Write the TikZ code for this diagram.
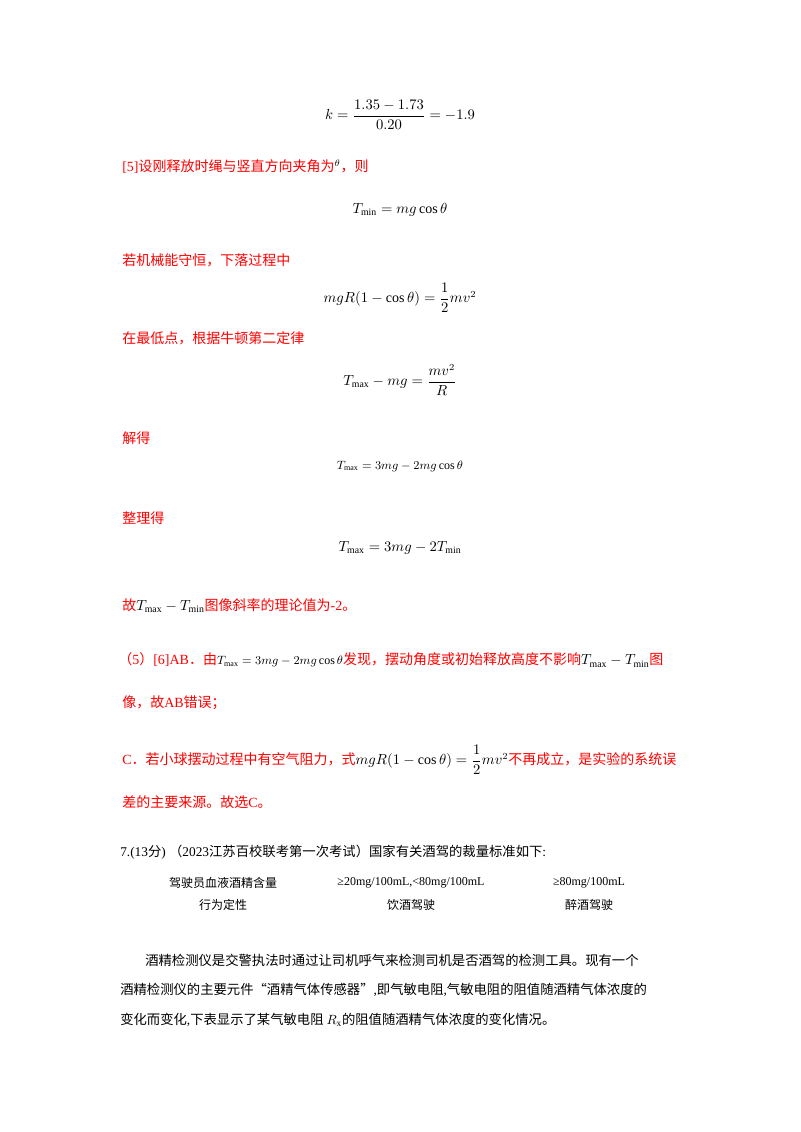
\documentclass[tikz,border=0pt]{standalone}
\usepackage{amsmath}
\usepackage{fontspec}
\setmainfont{Liberation Serif}
\newfontfamily\cjk{Noto Sans CJK SC}
\definecolor{rd}{RGB}{255,0,0}
\begin{document}
\begin{tikzpicture}[x=0.75pt,y=-0.75pt,
  red/.style={text=rd,anchor=west,inner sep=0,font=\fontsize{10.5}{12}\selectfont},
  blk/.style={text=black,anchor=west,inner sep=0,font=\fontsize{10}{12}\selectfont},
  eq/.style={inner sep=0,font=\fontsize{10.5}{12}\selectfont}]
\useasboundingbox[fill=white] (0,0) rectangle (800,1132);
\node[eq] (e1) at (400,115) {$k=\dfrac{1.35-1.73}{0.20}=-1.9$};
\node[red] (l1) at (122,167) {[5]{\cjk 设刚释放时绳与竖直方向夹角为}$^{\textcolor{black}{\theta}}${\cjk ，则}};
\node[eq] (e2) at (400,210) {$T_{\min}=mg\cos\theta$};
\node[red] (l2) at (122,260) {\cjk 若机械能守恒，下落过程中};
\node[eq] (e3) at (400,298) {$mgR(1-\cos\theta)=\dfrac{1}{2}mv^2$};
\node[red] (l3) at (122,338) {\cjk 在最低点，根据牛顿第二定律};
\node[eq] (e4) at (400,380) {$T_{\max}-mg=\dfrac{mv^2}{R}$};
\node[red] (l4) at (122,438) {\cjk 解得};
\node[eq,font=\fontsize{9}{11}\selectfont] (e5) at (400,466) {$T_{\max}=3mg-2mg\cos\theta$};
\node[red] (l5) at (122,518) {\cjk 整理得};
\node[eq] (e6) at (400,548) {$T_{\max}=3mg-2T_{\min}$};
\node[red] (l6) at (122,606) {{\cjk 故}\textcolor{black}{$T_{\max}-T_{\min}$}{\cjk 图像斜率的理论值为}-2{\cjk 。}};
\node[red] (l7) at (118,660) {{\cjk （}5{\cjk ）}[6]AB{\cjk ．由}\textcolor{black}{\fontsize{9}{11}\selectfont$T_{\max}=3mg-2mg\cos\theta$}{\cjk 发现，摆动角度或初始释放高度不影响}\textcolor{black}{$T_{\max}-T_{\min}$}{\cjk 图}};
\node[red] (l8) at (122,703) {{\cjk 像，故}AB{\cjk 错误；}};
\node[red] (l9) at (122,760) {C{\cjk ．若小球摆动过程中有空气阻力，式}\textcolor{black}{$mgR(1-\cos\theta)=\dfrac{1}{2}mv^2$}{\cjk 不再成立，是实验的系统误}};
\node[red] (l10) at (122,802) {{\cjk 差的主要来源。故选}C{\cjk 。}};
\node[blk] (q) at (120,852) {7.(13{\cjk 分}) {\cjk （}2023{\cjk 江苏百校联考第一次考试）国家有关酒驾的裁量标准如下}:};
\begin{scope}[every node/.style={inner sep=0,font=\fontsize{9}{11}\selectfont}]
\node (t11) at (223,883) {\cjk 驾驶员血液酒精含量};
\node (t12) at (411,883) {≥20mg/100mL,<80mg/100mL};
\node (t13) at (589,883) {≥80mg/100mL};
\node (t21) at (223,905) {\cjk 行为定性};
\node (t22) at (411,905) {\cjk 饮酒驾驶};
\node (t23) at (589,905) {\cjk 醉酒驾驶};
\end{scope}
\node[blk] (p1) at (145,960) {\cjk 酒精检测仪是交警执法时通过让司机呼气来检测司机是否酒驾的检测工具。现有一个};
\node[blk] (p2) at (120,990) {{\cjk 酒精检测仪的主要元件“酒精气体传感器”}{,\cjk 即气敏电阻}{,\cjk 气敏电阻的阻值随酒精气体浓度的}};
\node[blk] (p3) at (120,1020) {{\cjk 变化而变化}{,\cjk 下表显示了某气敏电阻 }$R_{\mathrm x}${\cjk 的阻值随酒精气体浓度的变化情况。}};
\end{tikzpicture}
\end{document}
